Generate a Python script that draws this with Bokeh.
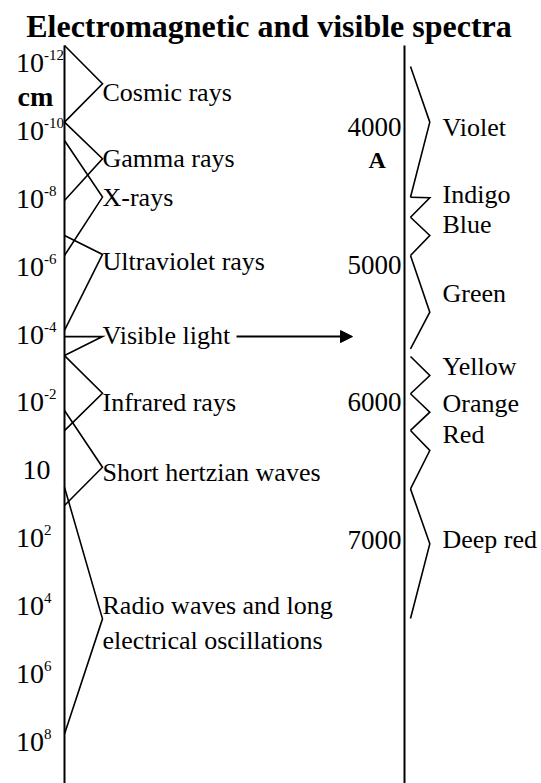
from bokeh.plotting import figure
from bokeh.models import Range1d, Arrow, NormalHead
from bokeh.core.properties import value
from bokeh.embed import file_html
from bokeh.resources import INLINE

# ---------------- data ----------------
TITLE = "Electromagnetic and visible spectra"

# electromagnetic spectrum, wavelength as log10(cm)
em_labels = ["Cosmic rays", "Gamma rays", "X-rays", "Ultraviolet rays",
             "Visible light", "Infrared rays", "Short hertzian waves",
             "Radio waves and long\nelectrical oscillations"]
em_start = [-12.52, -10.26, -9.72, -6.92, -3.94, -3.38, -1.76, 0.50]
em_peak = [-11.39, -9.18, -8.05, -6.36, -3.94, -2.27, -0.09, 4.38]
em_end = [-10.26, -7.95, -6.33, -4.12, -3.38, -1.17, 1.04, 7.77]
em_text_at = [-11.14, -9.18, -8.05, -6.15, -3.97, -2.00, 0.06, 4.49]

em_tick_exp = [-12, -10, -8, -6, -4, -2, 0, 2, 4, 6, 8]
em_tick_base = ["10"] * 11
em_tick_sup = ["-12", "-10", "-8", "-6", "-4", "-2", "", "2", "4", "6", "8"]
em_unit = "cm"
em_unit_at = -11.03
em_top = -12.52

# visible spectrum, wavelength in Angstrom
vis_labels = ["Violet", "Indigo", "Blue", "Green", "Yellow", "Orange", "Red", "Deep red"]
vis_start = [3558, 4509, 4655, 4933, 5668, 5939, 6206, 6631]
vis_peak = [3963, 4513, 4788, 5346, 5806, 6073, 6352, 7031]
vis_end = [4509, 4655, 4933, 5612, 5939, 6206, 6631, 7574]
vis_text_at = [4002, 4489, 4708, 5210, 5741, 6010, 6236, 6996]
vis_ticks = [4000, 5000, 6000, 7000]
vis_tick_labels = ["4000", "5000", "6000", "7000"]
vis_unit = "A"
vis_unit_at = 4242
vis_top = 3405

# ---------------- layout (horizontal, pixels) ----------------
XL_AXIS, XL_APEX, XL_TICK, XL_TICK0, XL_UNIT = 64, 102, 43.5, 50, 35
XR_AXIS, XR_IN, XR_OUT, XR_TICK, XR_UNIT, XR_TEXT = 404, 410, 429.3, 401, 376.7, 442
ARROW_X0, ARROW_X1 = 236, 352
TITLE_X, TITLE_AT = 268.5, -13.108

SERIF = value("Liberation Serif")
W, H = 541, 783

p = figure(width=W, height=H, x_range=Range1d(0, W),
           y_range=Range1d(9.232, -13.845),
           x_axis_location=None, y_axis_location=None,
           output_backend="svg", toolbar_location=None, min_border=0)
p.extra_y_ranges = {"ang": Range1d(8774.6, 3078.0)}
p.grid.visible = False
p.outline_line_color = None
p.background_fill_color = "white"
p.border_fill_color = "white"

# title
p.text(x=[TITLE_X], y=[TITLE_AT], text=[TITLE], text_font=SERIF,
       text_font_size="32px", text_font_style="bold", text_align="center",
       text_baseline="middle", text_color="black")

# vertical scales
p.segment(x0=[XL_AXIS], y0=[em_top], x1=[XL_AXIS], y1=[p.y_range.start],
          line_color="black", line_width=2)
p.segment(x0=[XR_AXIS], y0=[vis_top], x1=[XR_AXIS], y1=[p.extra_y_ranges["ang"].start],
          line_color="black", line_width=2, y_range_name="ang")

# EM brackets
p.multi_line(xs=[[XL_AXIS, XL_APEX, XL_AXIS] for _ in em_labels],
             ys=[[a, b, c] for a, b, c in zip(em_start, em_peak, em_end)],
             line_color="black", line_width=1.6, line_join="miter")
p.text(x=[XL_APEX] * len(em_labels), y=em_text_at, text=em_labels,
       text_font=SERIF, text_font_size="26px", text_align="left",
       text_baseline="middle", text_color="black")

# EM tick labels
base_x = [XL_TICK if s else XL_TICK0 for s in em_tick_sup]
p.text(x=base_x, y=em_tick_exp, text=em_tick_base, text_font=SERIF,
       text_font_size="28px", text_align="right", text_baseline="middle",
       text_color="black")
p.text(x=[XL_TICK] * len(em_tick_exp), y=em_tick_exp, text=em_tick_sup,
       text_font=SERIF, text_font_size="15px", text_align="left",
       text_baseline="middle", y_offset=-8, text_color="black")
p.text(x=[XL_UNIT], y=[em_unit_at], text=[em_unit], text_font=SERIF,
       text_font_size="28px", text_font_style="bold", text_align="center",
       text_baseline="middle", text_color="black")

# visible zigzag
p.multi_line(xs=[[XR_IN, XR_OUT, XR_IN] for _ in vis_labels],
             ys=[[a, b, c] for a, b, c in zip(vis_start, vis_peak, vis_end)],
             line_color="black", line_width=1.6, line_join="miter",
             y_range_name="ang")
p.text(x=[XR_TEXT] * len(vis_labels), y=vis_text_at, text=vis_labels,
       text_font=SERIF, text_font_size="26px", text_align="left",
       text_baseline="middle", text_color="black", y_range_name="ang")
p.text(x=[XR_TICK] * len(vis_ticks), y=vis_ticks, text=vis_tick_labels,
       text_font=SERIF, text_font_size="27px", text_align="right",
       text_baseline="middle", text_color="black", y_range_name="ang")
p.text(x=[XR_UNIT], y=[vis_unit_at], text=[vis_unit], text_font=SERIF,
       text_font_size="24px", text_font_style="bold", text_align="center",
       text_baseline="middle", text_color="black", y_range_name="ang")

# arrow from visible light to the visible spectrum
vis_idx = em_labels.index("Visible light")
p.add_layout(Arrow(end=NormalHead(size=12, line_color="black", fill_color="black"),
                   x_start=ARROW_X0, y_start=em_peak[vis_idx],
                   x_end=ARROW_X1, y_end=em_peak[vis_idx],
                   line_color="black", line_width=2))

open("out.html", "w").write(file_html(p, INLINE))
